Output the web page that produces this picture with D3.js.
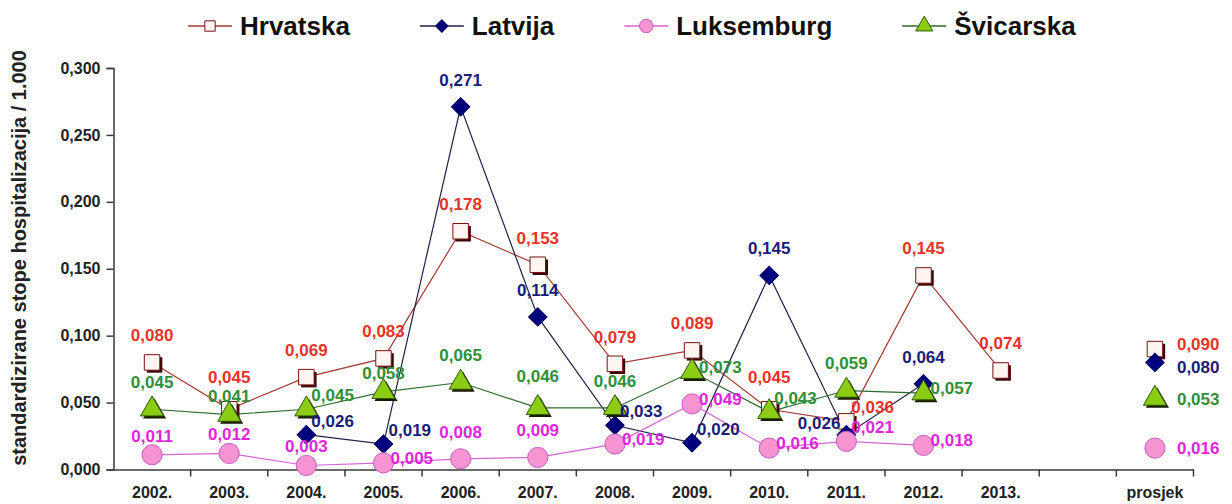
<!DOCTYPE html>
<html>
<head>
<meta charset="utf-8">
<script src="https://cdn.jsdelivr.net/npm/d3@7"></script>
<style>
  body { margin: 0; background: #fff; }
  text { font-family: "Liberation Sans", Arial, sans-serif; font-weight: bold; }
</style>
</head>
<body>
<svg width="1232" height="504"></svg>
<script>
// categories on the x axis (one empty slot before the average)
var categories = ["2002.", "2003.", "2004.", "2005.", "2006.", "2007.", "2008.",
                  "2009.", "2010.", "2011.", "2012.", "2013.", "", "prosjek"];
var years = categories.slice(0, 12);

var seriesNames = ["Hrvatska", "Latvija", "Luksemburg", "Švicarska"];

// yearly values, 2002.-2013.
var hrvatska   = [0.080, 0.045, 0.069, 0.083, 0.178, 0.153, 0.079, 0.089, 0.045, 0.036, 0.145, 0.074];
var latvija    = [null, null, 0.026, 0.019, 0.271, 0.114, 0.033, 0.020, 0.145, 0.026, 0.064, null];
var luksemburg = [0.011, 0.012, 0.003, 0.005, 0.008, 0.009, 0.019, 0.049, 0.016, 0.021, 0.018, null];
var svicarska  = [0.045, 0.041, 0.045, 0.058, 0.065, 0.046, 0.046, 0.073, 0.043, 0.059, 0.057, null];

// "prosjek" (average) per series
var averages = [0.090, 0.080, 0.016, 0.053];

var yTicks = [0, 0.05, 0.10, 0.15, 0.20, 0.25, 0.30];

// where each data label sits next to its marker (12 years, then prosjek)
var labelPlace = [
  ["a","ah","a","a","a","a","a","a","ah","ur","a","a","pu"],
  [null,null,"ur","ur","a","a","ur","ur","a","l","a",null,"pd"],
  ["as","as","as","r","a","a","r","r","r","ur","r",null,"p"],
  ["a","as","ur","as","a","ah","a","r","ur","a","r",null,"p"]
];

var svg = d3.select("svg");

var x = d3.scaleBand()
    .domain(categories)
    .range([113.5, 1193.5]);

var y = d3.scaleLinear()
    .domain([0, 0.3])
    .range([469.5, 68]);

var fmt = function(d) { return d3.format(".3f")(d).replace(".", ","); };

var styles = [
  {line: "#a33a33", label: "#e8322c", fill: "#fff6f4", stroke: "#7a1010", shadow: "#3a0a0a", type: "square"},
  {line: "#20204a", label: "#1c1c78", fill: "#00007e", stroke: "#000060", shadow: null, type: "diamond"},
  {line: "#d466d4", label: "#e026dc", fill: "#f894d2", stroke: "#c75cc7", shadow: null, type: "circle"},
  {line: "#2f6a2f", label: "#2f8f3a", fill: "#8ccc14", stroke: "#2c5a06", shadow: "#1a1a00", type: "triangle"}
];

function symbolPath(type, scale) {
  if (type === "square") return d3.symbol(d3.symbolSquare, 240 * scale)();
  if (type === "diamond") return d3.symbol(d3.symbolSquare, 170 * scale)();
  if (type === "circle") return d3.symbol(d3.symbolCircle, 320 * scale)();
  return d3.symbol(d3.symbolTriangle, 230 * scale)();
}

var seriesData = [hrvatska, latvija, luksemburg, svicarska].map(function(vals, s) {
  var pts = vals.map(function(v, i) { return {cat: years[i], value: v, place: labelPlace[s][i]}; });
  pts.push({cat: "prosjek", value: averages[s], place: labelPlace[s][years.length], avg: true});
  return pts;
});

// axes
var yAxis = svg.append("g")
    .attr("transform", "translate(113.5,0)")
    .call(d3.axisLeft(y).tickValues(yTicks).tickFormat(fmt).tickSize(7).tickPadding(6));
yAxis.selectAll("text").attr("font-size", 16).attr("fill", "#222");
yAxis.selectAll("line, path").attr("stroke", "#3a3a3a").attr("stroke-width", 1.5);

var xAxis = svg.append("g")
    .attr("transform", "translate(0," + y(0) + ")")
    .call(d3.axisBottom(x).tickSize(0).tickPadding(17));
xAxis.selectAll("text").attr("font-size", 16).attr("fill", "#222");
xAxis.select(".domain").attr("stroke", "#3a3a3a").attr("stroke-width", 1.5);

// tick marks between categories
xAxis.selectAll(".bound")
  .data(categories.slice(1).concat(["end"]))
  .enter().append("line")
    .attr("x1", function(d) { return d === "end" ? x.range()[1] : x(d); })
    .attr("x2", function(d) { return d === "end" ? x.range()[1] : x(d); })
    .attr("y1", 0)
    .attr("y2", 7)
    .attr("stroke", "#3a3a3a")
    .attr("stroke-width", 1.5);

svg.append("text")
    .attr("transform", "translate(26,258) rotate(-90)")
    .attr("text-anchor", "middle")
    .attr("font-size", 20)
    .attr("fill", "#222")
    .text("standardizirane stope hospitalizacija / 1.000");

var cx = function(d) { return x(d.cat) + x.bandwidth() / 2; };

// lines (years only)
var line = d3.line()
    .defined(function(d) { return d.value != null; })
    .x(cx)
    .y(function(d) { return y(d.value); });

seriesData.forEach(function(pts, s) {
  svg.append("path")
      .datum(pts.filter(function(d) { return !d.avg; }))
      .attr("d", line)
      .attr("fill", "none")
      .attr("stroke", styles[s].line)
      .attr("stroke-width", 1.2);
});

// markers
seriesData.forEach(function(pts, s) {
  var st = styles[s];
  var valid = pts.filter(function(d) { return d.value != null; });
  var rot = st.type === "diamond" ? " rotate(45)" : "";
  if (st.shadow) {
    svg.append("g").selectAll("path")
      .data(valid)
      .enter().append("path")
        .attr("transform", function(d) { return "translate(" + (cx(d) + 2.5) + "," + (y(d.value) + 2.5) + ")" + rot; })
        .attr("d", symbolPath(st.type, 1))
        .attr("fill", st.shadow);
  }
  svg.append("g").selectAll("path")
    .data(valid)
    .enter().append("path")
      .attr("transform", function(d) { return "translate(" + cx(d) + "," + y(d.value) + ")" + rot; })
      .attr("d", symbolPath(st.type, 1))
      .attr("fill", st.fill)
      .attr("stroke", st.stroke)
      .attr("stroke-width", 1);
});

// data labels
var place = {
  a:  {anchor: "middle", dx: 0,   dy: -27},
  ah: {anchor: "middle", dx: 0,   dy: -32},
  as: {anchor: "middle", dx: 0,   dy: -19},
  r:  {anchor: "start",  dx: 7,   dy: -5},
  ur: {anchor: "start",  dx: 5,   dy: -14},
  l:  {anchor: "end",    dx: -6,  dy: -12},
  p:  {anchor: "start",  dx: 22,  dy: 0},
  pu: {anchor: "start",  dx: 22,  dy: -5},
  pd: {anchor: "start",  dx: 22,  dy: 5}
};

seriesData.forEach(function(pts, s) {
  svg.append("g").selectAll("text")
    .data(pts.filter(function(d) { return d.value != null; }))
    .enter().append("text")
      .attr("x", function(d) { return cx(d) + place[d.place].dx; })
      .attr("y", function(d) { return y(d.value) + place[d.place].dy; })
      .attr("dy", "0.35em")
      .attr("text-anchor", function(d) { return place[d.place].anchor; })
      .attr("font-size", 17)
      .attr("fill", styles[s].label)
      .text(function(d) { return fmt(d.value); });
});

// legend
var legend = svg.append("g").attr("transform", "translate(188,0)");
var lx = 0;
seriesNames.forEach(function(name, s) {
  var st = styles[s];
  var item = legend.append("g").attr("transform", "translate(" + lx + ",0)");
  item.append("line")
      .attr("x1", 0).attr("x2", 44)
      .attr("y1", 26).attr("y2", 26)
      .attr("stroke", st.line)
      .attr("stroke-width", 1.5);
  item.append("path")
      .attr("transform", "translate(22,26)" + (st.type === "diamond" ? " rotate(45)" : ""))
      .attr("d", symbolPath(st.type, st.type === "triangle" ? 0.55 : 0.45))
      .attr("fill", st.fill)
      .attr("stroke", st.stroke)
      .attr("stroke-width", 1);
  var t = item.append("text")
      .attr("x", 52)
      .attr("y", 35)
      .attr("font-size", 26)
      .attr("fill", "#111")
      .text(name);
  lx += 52 + t.node().getComputedTextLength() + 70;
});
</script>
</body>
</html>
